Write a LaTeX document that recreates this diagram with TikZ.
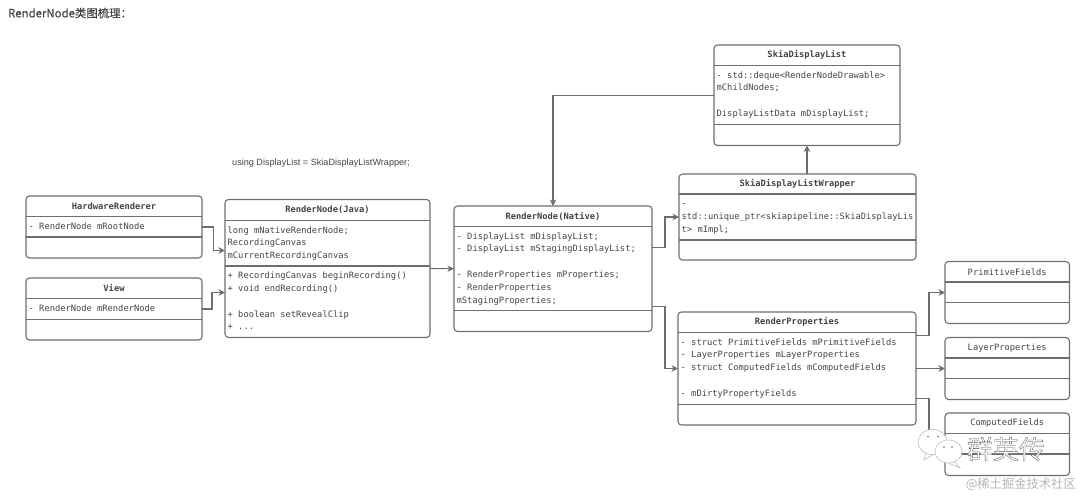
\documentclass[tikz,border=0pt]{standalone}
\usepackage{fontspec}
\setmainfont{Liberation Sans}
\setmonofont{DejaVu Sans Mono}
\newfontfamily\cjk{Noto Sans CJK SC}
\newfontfamily\cjkhead[FakeBold=0.35]{Noto Sans CJK SC}
\usepackage{tikz}
\usetikzlibrary{fit,arrows.meta}

\definecolor{boxgray}{HTML}{6E6E6E}
\definecolor{textgray}{HTML}{444444}
\definecolor{markgray}{HTML}{B4B4B4}

\newcommand{\umlclass}[9]{%
\node[classbox,fit={(#2,#3) (#4,#5)}] (#1) {};
\draw[classline] (#2,#6) -- (#4,#6);
\draw[classline] (#2,#7) -- (#4,#7);
\node[classhead] (#1T) at ({(#2+#4)/2},{(#3+#6)/2}) {#8};
\node[classbody] (#1B) at (#2+2.5,#6+3.5) {#9};
}

\begin{document}
\begin{tikzpicture}[x=1pt,y=-1pt,
classbox/.style={draw=boxgray,line width=1.1pt,rounded corners=3.5pt,inner sep=0pt,outer sep=0pt},
classline/.style={draw=boxgray,line width=1.1pt},
classhead/.style={text=textgray,inner sep=0pt,font=\fontsize{8.75}{12.8}\selectfont\ttfamily},
classbody/.style={text=textgray,inner sep=0pt,anchor=north west,align=left,font=\fontsize{8.75}{12.8}\selectfont\ttfamily},
link/.style={draw=boxgray,line width=1.1pt,-{Stealth[length=6.5pt,width=6.5pt,inset=2pt]}},
bubble/.style={draw=markgray,fill=white,line width=0.5pt},
eye/.style={fill=boxgray,draw=none}]
\useasboundingbox (0,0) rectangle (1080,496);

\node[anchor=west,inner sep=0pt,text=textgray] (heading) at (8,13) {\cjkhead\fontsize{11.4}{13}\selectfont RenderNode类图梳理：};
\node[anchor=west,inner sep=0pt,text=textgray] (usingnote) at (232,163.5) {\fontsize{9.1}{11}\selectfont using DisplayList = SkiaDisplayListWrapper;};

\umlclass{HR}{26}{196}{202}{258}{216.5}{237}{\textbf{HardwareRenderer}}{\strut- RenderNode mRootNode}
\umlclass{VW}{26}{278}{202}{340}{298.5}{319.5}{\textbf{View}}{\strut- RenderNode mRenderNode}
\umlclass{JV}{225}{199.5}{430}{337.5}{220.5}{266}{\textbf{RenderNode(Java)}}{\strut long mNativeRenderNode;\\RecordingCanvas\\mCurrentRecordingCanvas}
\node[classbody] (JVC) at (227.5,269.5) {\strut+ RecordingCanvas beginRecording()\\+ void endRecording()\\~\\+ boolean setRevealClip\\+ ...};
\umlclass{NT}{454}{206}{652}{331.5}{226.5}{310.5}{\textbf{RenderNode(Native)}}{\strut- DisplayList mDisplayList;\\- DisplayList mStagingDisplayList;\\~\\- RenderProperties mProperties;\\- RenderProperties\\mStagingProperties;}
\umlclass{SD}{714}{45}{900}{145.5}{65.5}{124.5}{\textbf{SkiaDisplayList}}{\strut- std::deque<RenderNodeDrawable>\\mChildNodes;\\~\\DisplayListData mDisplayList;}
\umlclass{WR}{679}{174}{916}{260}{194}{240}{\textbf{SkiaDisplayListWrapper}}{\strut-\\std::unique\_ptr<skiapipeline::SkiaDisplayLis\\t> mImpl;}
\umlclass{RP}{678}{312}{916}{425}{332.5}{404.5}{\textbf{RenderProperties}}{\strut- struct PrimitiveFields mPrimitiveFields\\- LayerProperties mLayerProperties\\- struct ComputedFields mComputedFields\\~\\- mDirtyPropertyFields}
\umlclass{PF}{945}{261.5}{1069.5}{323.5}{282}{302.5}{PrimitiveFields}{}
\umlclass{LP}{945}{337.5}{1069.5}{399.5}{358}{378.5}{LayerProperties}{}
\umlclass{CF}{945}{413}{1069.5}{475.5}{433.5}{454}{ComputedFields}{}

\draw[link] (HR.east) -- ++(11.5,0) |- ([yshift=18pt]JV.west);
\draw[link] (VW.east) -- ++(10,0) |- ([yshift=-24pt]JV.west);
\draw[link] (JV.east) -- (NT.west);
\draw[link] (SD.west) -| (NT.north);
\draw[link] (SD.south |- WR.north) -- (SD.south);
\draw[link] ([yshift=21pt]NT.east) -- ++(13,0) |- (WR.west);
\draw[link] ([yshift=-38pt]NT.east) -- ++(13,0) |- (RP.west);
\draw[link] ([yshift=33pt]RP.east) -- ++(13,0) |- (PF.west);
\draw[link] (RP.east) -- (LP.west);
\draw[link] ([yshift=-30pt]RP.east) -- ++(13,0) |- (CF.west);

% watermark
\draw[bubble] (926,452) -- (924,460) -- (934,454) -- cycle;
\draw[draw=none,fill=white] (932.5,442) ellipse (14.5 and 12.5);
\draw[bubble] (932.5,442) ellipse (14.5 and 12.5);
\fill[eye] (928,436.5) circle (0.8) (938,436.5) circle (0.8);
\draw[bubble] (953,460) -- (960,468) -- (946,462) -- cycle;
\draw[bubble] (948.5,451.5) ellipse (13.5 and 11.5);
\fill[eye] (944,447) circle (0.8) (952,447) circle (0.8);
\node[inner sep=0pt,text=white] (markname) at (1006,449) {\cjk\fontsize{26}{26}\selectfont\special{pdf:code q 2 Tr 0.3 w 0.3 G}群英传\special{pdf:code Q}};
\node[inner sep=0pt,text=markgray,anchor=east] (marksite) at (1076,484.5) {\cjk\fontsize{12.3}{13}\selectfont @稀土掘金技术社区};
\end{tikzpicture}
\end{document}
